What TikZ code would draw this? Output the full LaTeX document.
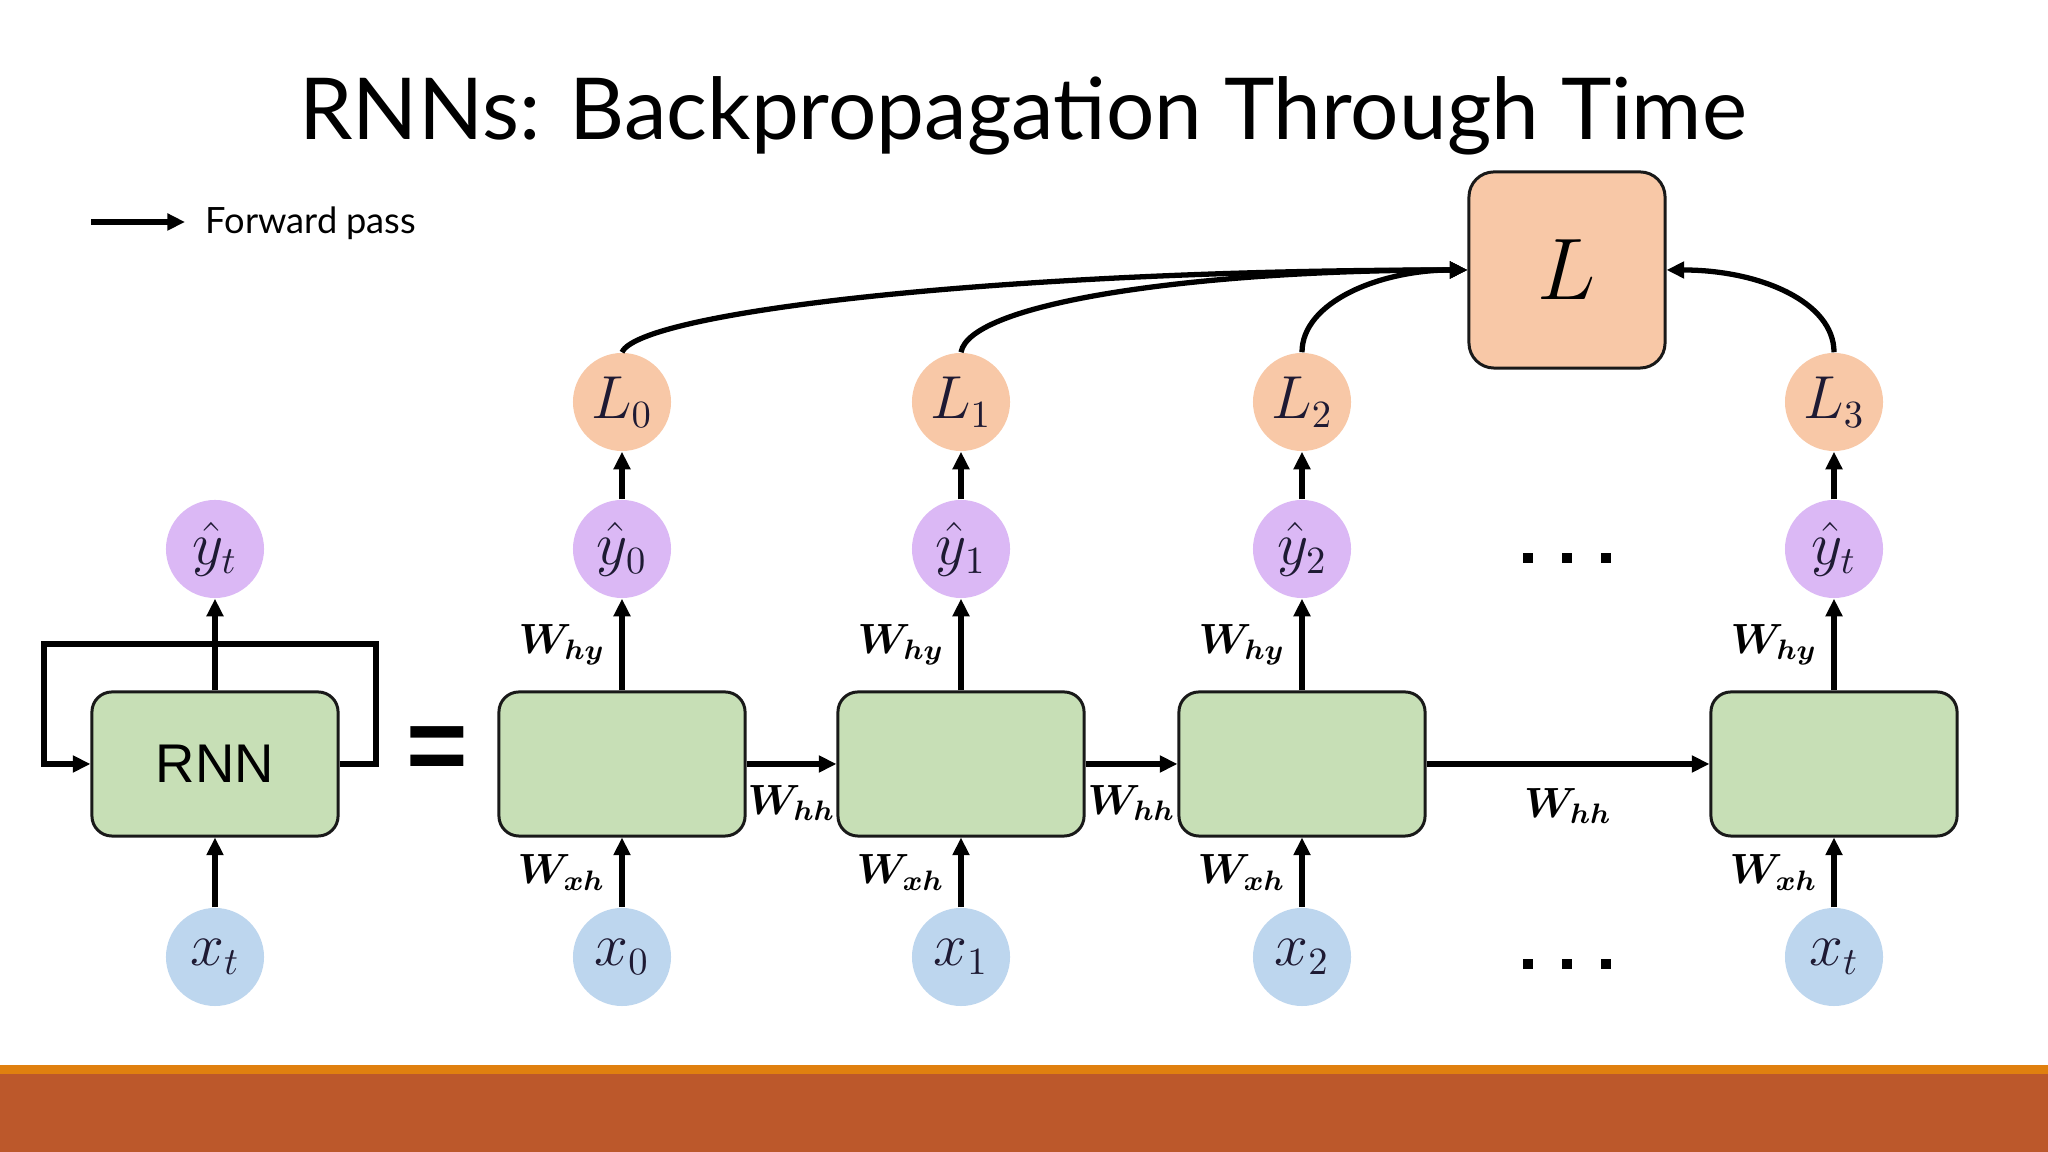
\documentclass[tikz,border=0pt]{standalone}
\usepackage[no-math]{fontspec}
\setmainfont{Liberation Sans}
\newfontfamily\titlefont{Lato}
\usepackage{bm}
\usetikzlibrary{arrows.meta}
\definecolor{cellgreen}{HTML}{C7DFB6}
\definecolor{ypurple}{HTML}{DBB8F5}
\definecolor{lpeach}{HTML}{F8C8A7}
\definecolor{xblue}{HTML}{BDD6EE}
\definecolor{rust}{HTML}{BC582B}
\definecolor{bandorange}{HTML}{E0800F}
\definecolor{inktext}{HTML}{1E1A33}
\begin{document}
\begin{tikzpicture}[x=0.01cm,y=0.01cm,
  arr/.style={line width=1.5pt, line join=miter, -{Triangle[length=5pt,width=4.6pt]}},
  cell/.style={draw=black!90, line width=0.85pt, fill=cellgreen, rounded corners=0.2cm,
    minimum width=2.46cm, minimum height=1.44cm, inner sep=0pt},
  bub/.style={circle, minimum size=0.98cm, inner sep=0pt, text=inktext,
    font=\fontsize{16}{18}\selectfont},
  yhat/.style={bub, fill=ypurple},
  lnode/.style={bub, fill=lpeach},
  xin/.style={bub, fill=xblue},
  lbox/.style={draw=black!90, line width=0.85pt, fill=lpeach, rounded corners=0.25cm,
    minimum size=1.96cm, inner sep=0pt, font=\fontsize{31}{34}\selectfont},
  wlab/.style={inner sep=2pt, font=\fontsize{11.8}{14}\selectfont},
  dotrow/.style={inner sep=0pt}
]
\useasboundingbox (0,0) rectangle (2048,1152);
\fill[white] (0,0) rectangle (2048,1152);
\fill[rust] (0,0) rectangle (2048,78);
\fill[bandorange] (0,78) rectangle (2048,87);

% title
\node[anchor=base, font=\titlefont\fontsize{24.3}{30}\selectfont] (title) at (1023,1012) {RNNs: Backpropagation Through Time};

% legend
\coordinate (fpA) at (91,930);
\coordinate (fpB) at (185,930);
\draw[arr] (fpA) -- (fpB);
\node[anchor=base west, inner sep=0pt, font=\titlefont\fontsize{10.3}{14}\selectfont] (fp) at (205,918) {Forward pass};

% folded RNN
\node[cell, font=\fontsize{15.5}{18}\selectfont] (rnn) at (215,388) {RNN};
\node[yhat] (yt) at (215,603) {$\hat{y}_t$};
\node[xin] (xt) at (215,195) {$x_t$};
\coordinate (lp1) at (376,388);
\coordinate (lp2) at (376,508);
\coordinate (lp3) at (44,508);
\coordinate (lp4) at (44,388);
\draw[arr] (rnn.east) -- (lp1) -- (lp2) -- (lp3) -- (lp4) -- (rnn.west);
\draw[arr] (rnn.north) -- (yt.south);
\draw[arr] (xt.north) -- (rnn.south);

\node[font=\bfseries\fontsize{30}{34}\selectfont] (eq) at (437,398) {=};

% unrolled cells
\node[cell] (c0) at (622,388) {};
\node[cell] (c1) at (961,388) {};
\node[cell] (c2) at (1302,388) {};
\node[cell] (c3) at (1834,388) {};

\node[yhat] (y0) at (622,603) {$\hat{y}_0$};
\node[yhat] (y1) at (961,603) {$\hat{y}_1$};
\node[yhat] (y2) at (1302,603) {$\hat{y}_2$};
\node[yhat] (y3) at (1834,603) {$\hat{y}_t$};

\node[lnode] (L0) at (622,750) {$L_0$};
\node[lnode] (L1) at (961,750) {$L_1$};
\node[lnode] (L2) at (1302,750) {$L_2$};
\node[lnode] (L3) at (1834,750) {$L_3$};

\node[xin] (x0) at (622,195) {$x_0$};
\node[xin] (x1) at (961,195) {$x_1$};
\node[xin] (x2) at (1302,195) {$x_2$};
\node[xin] (x3) at (1834,195) {$x_t$};

\node[lbox] (L) at (1567,882) {$L$};

\node[dotrow] (dotsY) at (1567,594) {\rule{0.1cm}{0.1cm}\hspace{0.29cm}\rule{0.1cm}{0.1cm}\hspace{0.29cm}\rule{0.1cm}{0.1cm}};
\node[dotrow] (dotsX) at (1567,188) {\rule{0.1cm}{0.1cm}\hspace{0.29cm}\rule{0.1cm}{0.1cm}\hspace{0.29cm}\rule{0.1cm}{0.1cm}};

% vertical arrows
\foreach \i in {0,1,2,3}{
  \draw[arr] (c\i.north) -- (y\i.south) node[midway, left, wlab, xshift=-2pt] {$\bm{W_{hy}}$};
  \draw[arr] (x\i.north) -- (c\i.south) node[midway, left, wlab, xshift=-2pt] {$\bm{W_{xh}}$};
  \draw[arr] (y\i.north) -- (L\i.south);
}

% horizontal arrows
\draw[arr] (c0.east) -- (c1.west) node[midway, wlab, yshift=-0.39cm] {$\bm{W_{hh}}$};
\draw[arr] (c1.east) -- (c2.west) node[midway, wlab, yshift=-0.39cm] {$\bm{W_{hh}}$};
\draw[arr] (c2.east) -- (c3.west) node[midway, wlab, yshift=-0.42cm] {$\bm{W_{hh}}$};

% loss curves
\draw[arr] (L0.north) .. controls (640,840) and (1000,882) .. (L.west);
\draw[arr] (L1.north) .. controls (970,850) and (1200,882) .. (L.west);
\draw[arr] (L2.north) .. controls (1302,850) and (1380,882) .. (L.west);
\draw[arr] (L3.north) .. controls (1834,850) and (1760,882) .. (L.east);
\end{tikzpicture}
\end{document}
